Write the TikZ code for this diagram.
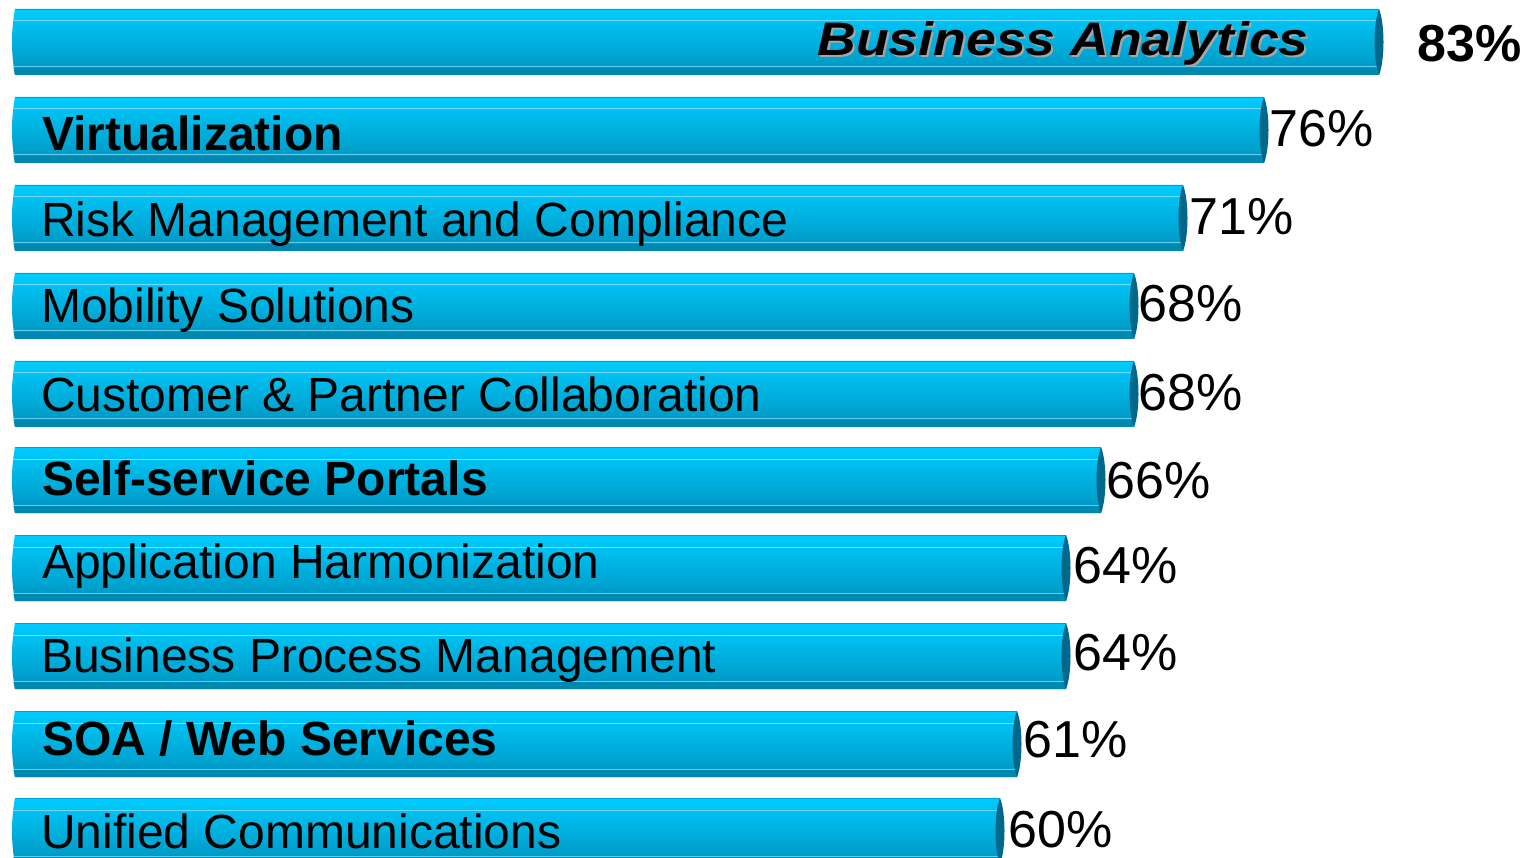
\documentclass[tikz,border=0pt]{standalone}
\usepackage{fontspec}
\setmainfont{Liberation Sans}
\usepackage{graphicx}
\definecolor{barTop}{HTML}{00CCFF}
\definecolor{barMid}{HTML}{00B8E8}
\definecolor{barBot}{HTML}{0094BE}
\definecolor{barEdge}{HTML}{0088B0}
\definecolor{barGlint}{HTML}{8AE4FF}
\definecolor{capCol}{HTML}{00688A}
\tikzset{
  lbl/.style={anchor=base west,inner sep=0pt,font=\fontsize{48}{50}\selectfont},
  lblb/.style={lbl,font=\fontsize{48}{50}\selectfont\bfseries},
  pct/.style={anchor=base west,inner sep=0pt,font=\fontsize{52}{54}\selectfont}
}
\begin{document}
\begin{tikzpicture}[x=1pt,y=-1pt]
\clip (0,0) rectangle (1529,858);
\fill[white] (0,0) rectangle (1529,858);
% bars: top edge / right end
\foreach \t/\r in {9/1384,97/1269,185/1188,273/1139,361/1139,447/1106,535/1071,623/1071,711/1022,798/1005}{
  \shade[top color=barTop,middle color=barMid,bottom color=barBot] (15,\t) .. controls (11,\t+22) and (11,\t+44) .. (15,\t+66) -- (\r-5,\t+66) -- (\r-5,\t) -- cycle;
  \fill[barEdge] (13.5,\t+59) .. controls (14,\t+63) .. (15,\t+66) -- (\r-5,\t+66) -- (\r-5,\t+59) -- cycle;
  \draw[barEdge!60!barTop,line width=1pt] (15,\t+0.5) -- (\r-5,\t+0.5);
  \draw[barGlint,line width=1pt,opacity=.8] (13,\t+12) -- (\r-5,\t+12);
  \draw[barGlint,line width=1pt,opacity=.7] (12.5,\t+58) -- (\r-5,\t+58);
  \fill[capCol] (\r-5,\t) .. controls (\r+1,\t+15) and (\r+1,\t+51) .. (\r-5,\t+66) .. controls (\r-11,\t+51) and (\r-11,\t+15) .. cycle;
}
% labels
\node[anchor=base east,inner sep=0pt,text=black!35,font=\fontsize{47}{49}\selectfont\bfseries\itshape] (ba-shadow) at (1311,58) {\scalebox{1.14}[1]{Business Analytics}};
\node[anchor=base east,inner sep=0pt,font=\fontsize{47}{49}\selectfont\bfseries\itshape] (ba) at (1309,56) {\scalebox{1.14}[1]{Business Analytics}};
\node[lblb] (virt) at (42,151) {Virtualization};
\node[lbl] (risk) at (41,237) {Risk Management and Compliance};
\node[lbl] (mob) at (41,323) {Mobility Solutions};
\node[lbl] (cust) at (41,412) {Customer \& Partner Collaboration};
\node[lblb] (self) at (42,495) {Self-service Portals};
\node[lbl] (app) at (42,578) {Application Harmonization};
\node[lbl] (bpm) at (41,672) {Business Process Management};
\node[lblb] (soa) at (42,755) {SOA / Web Services};
\node[lbl] (uc) at (41,848) {Unified Communications};
% values
\node[pct,font=\fontsize{52}{54}\selectfont\bfseries] (v1) at (1417,62) {83\%};
\node[pct] (v2) at (1269,147) {76\%};
\node[pct] (v3) at (1189,235) {71\%};
\node[pct] (v4) at (1138,322) {68\%};
\node[pct] (v5) at (1138,410) {68\%};
\node[pct] (v6) at (1106,498) {66\%};
\node[pct] (v7) at (1073,583) {64\%};
\node[pct] (v8) at (1073,670) {64\%};
\node[pct] (v9) at (1023,757) {61\%};
\node[pct] (v10) at (1008,847) {60\%};
\end{tikzpicture}
\end{document}
